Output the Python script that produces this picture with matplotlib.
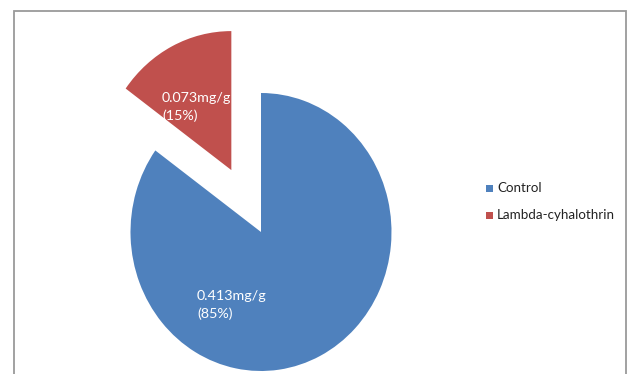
import matplotlib
matplotlib.use("Agg")
import matplotlib.pyplot as plt
from matplotlib.patches import Rectangle

categories = ["Control", "Lambda-cyhalothrin"]
values = [0.413, 0.073]
percents = [85, 15]
colors = ["#4F81BD", "#C0504D"]
explode = [0.0, 0.5]

W, H = 628, 374
fig = plt.figure(figsize=(W / 100, H / 100), dpi=100)
fig.patch.set_facecolor("white")

# chart frame
fig.add_artist(Rectangle((14 / W, -0.05), (625.5 - 14) / W, (H - 10.5) / H + 0.05,
                         transform=fig.transFigure, fill=False,
                         edgecolor="#9a9a9a", linewidth=1.3))

# pie drawn in an axes spanning the figure; unequal scales give the oval shape
cx, cy, rx, ry = 261, 232, 130.5, 139
ax = fig.add_axes([0, 0, 1, 1])
wedges, _ = ax.pie(values, colors=colors, explode=explode, startangle=90,
                   counterclock=False, radius=1.0, center=(0, 0),
                   wedgeprops=dict(linewidth=0))
ax.set_xlim(-cx / rx, (W - cx) / rx)
ax.set_ylim((cy - H) / ry, cy / ry)
ax.set_aspect("auto")
ax.axis("off")

font = "Lato"
label_pos = [(197, 305), (162, 107)]
for (px, py), v, p in zip(label_pos, values, percents):
    fig.text(px / W, 1 - py / H, f"{v:.3f}mg/g\n({p}%)", color="white",
             fontsize=10.3, family=font, ha="left", va="center",
             linespacing=1.5)

# legend
leg_items = [(188, categories[0], colors[0]), (215, categories[1], colors[1])]
for py, name, col in leg_items:
    fig.add_artist(Rectangle((486 / W, 1 - (py + 3.5) / H), 7 / W, 7 / H,
                             transform=fig.transFigure, facecolor=col,
                             edgecolor="none"))
    fig.text(497 / W, 1 - py / H, name, color="#222222", fontsize=9.6,
             family=font, ha="left", va="center")

fig.savefig("out.png", dpi=100, facecolor="white")
